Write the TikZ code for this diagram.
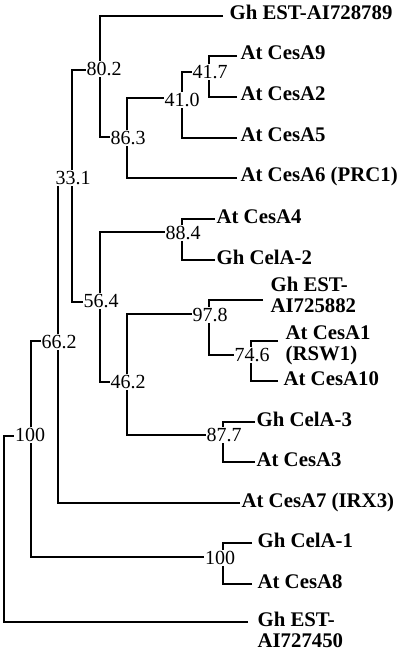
\documentclass[tikz,border=0pt]{standalone}
\usepackage{fontspec}
\setmainfont{Liberation Serif}
\begin{document}
\begin{tikzpicture}[x=1pt,y=-1pt,line width=1.2pt,line join=miter,
  bs/.style={fill=white,inner sep=1pt,font=\fontsize{20}{20}\selectfont},
  leaf/.style={anchor=base west,inner sep=0pt,align=left,font=\fontsize{20.8}{21}\selectfont\bfseries}]
\useasboundingbox (0,0) rectangle (400,652);
% internal node positions
\coordinate (root) at (4,530);
\coordinate (a100) at (31,436);
\coordinate (a66) at (58,341);
\coordinate (a33) at (72,178);
\coordinate (a80) at (100,70);
\coordinate (a86) at (127,137);
\coordinate (a41) at (182,98);
\coordinate (a417) at (209,72);
\coordinate (a56) at (100,302);
\coordinate (a88) at (182,232);
\coordinate (a46) at (127,382);
\coordinate (a97) at (209,314);
\coordinate (a74) at (251,355);
\coordinate (a877) at (223,435);
\coordinate (b100) at (223,557);
% leaf line ends
\coordinate (e1) at (223,16);
\coordinate (e2) at (237,56);
\coordinate (e3) at (237,97);
\coordinate (e4) at (237,138);
\coordinate (e5) at (237,178);
\coordinate (e6) at (215,219);
\coordinate (e7) at (215,260);
\coordinate (e8) at (263,300);
\coordinate (e9) at (278,341);
\coordinate (e10) at (278,381);
\coordinate (e11) at (255,422);
\coordinate (e12) at (255,462);
\coordinate (e13) at (240,503);
\coordinate (e14) at (252,543);
\coordinate (e15) at (252,584);
\coordinate (e16) at (248,622);
% leaf labels
\node[leaf] (t1) at (229,20) {Gh EST-AI728789};
\node[leaf] (t2) at (240,60) {At CesA9};
\node[leaf] (t3) at (240,101) {At CesA2};
\node[leaf] (t4) at (240,142) {At CesA5};
\node[leaf] (t5) at (240,182) {At CesA6 (PRC1)};
\node[leaf] (t6) at (216,223) {At CesA4};
\node[leaf] (t7) at (216,264) {Gh CelA-2};
\node[leaf] (t8) at (270,312.5) {Gh EST-\\AI725882};
\node[leaf] (t9) at (285,360.5) {At CesA1\\(RSW1)};
\node[leaf] (t10) at (283,385) {At CesA10};
\node[leaf] (t11) at (256,426) {Gh CelA-3};
\node[leaf] (t12) at (256,466) {At CesA3};
\node[leaf] (t13) at (241,507) {At CesA7 (IRX3)};
\node[leaf] (t14) at (257,547) {Gh CelA-1};
\node[leaf] (t15) at (257,588) {At CesA8};
\node[leaf] (t16) at (257,647.5) {Gh EST-\\AI727450};
% branches
\draw (a100) -| (root); \draw (e16) -| (root);
\draw (a66) -| (a100); \draw (b100) -| (a100);
\draw (a33) -| (a66); \draw (e13) -| (a66);
\draw (a80) -| (a33); \draw (a56) -| (a33);
\draw (e1) -| (a80); \draw (a86) -| (a80);
\draw (a41) -| (a86); \draw (e5) -| (a86);
\draw (a417) -| (a41); \draw (e4) -| (a41);
\draw (e2) -| (a417); \draw (e3) -| (a417);
\draw (a88) -| (a56); \draw (a46) -| (a56);
\draw (e6) -| (a88); \draw (e7) -| (a88);
\draw (a97) -| (a46); \draw (a877) -| (a46);
\draw (e8) -| (a97); \draw (a74) -| (a97);
\draw (e9) -| (a74); \draw (e10) -| (a74);
\draw (e11) -| (a877); \draw (e12) -| (a877);
\draw (e14) -| (b100); \draw (e15) -| (b100);
% bootstrap values
\node[bs] (l100) at (30,435) {100};
\node[bs] (l66) at (59,342) {66.2};
\node[bs] (l33) at (73,178) {33.1};
\node[bs] (l80) at (104,69) {80.2};
\node[bs] (l86) at (128,138) {86.3};
\node[bs] (l41) at (182,100) {41.0};
\node[bs] (l417) at (210,72) {41.7};
\node[bs] (l56) at (101,301) {56.4};
\node[bs] (l88) at (183,233) {88.4};
\node[bs] (l46) at (128,382) {46.2};
\node[bs] (l97) at (210,315) {97.8};
\node[bs] (l74) at (252,355) {74.6};
\node[bs] (l877) at (224,435) {87.7};
\node[bs] (lb100) at (220,558) {100};
\end{tikzpicture}
\end{document}
